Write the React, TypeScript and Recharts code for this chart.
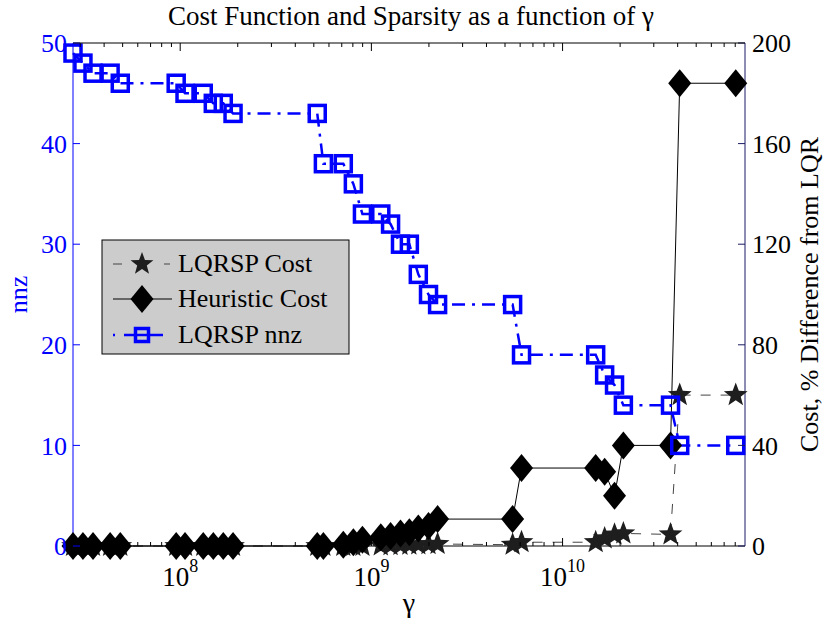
import React from 'react';
import { ComposedChart, Line, XAxis, YAxis } from 'recharts';

// gamma sweep and the three measured series
const gamma = [
  2.75e7, 3.1e7, 3.5e7, 4.3e7, 4.86e7, 9.53e7, 1.06e8, 1.32e8, 1.49e8, 1.68e8, 1.89e8,
  5.21e8, 5.61e8, 7.13e8, 8.05e8, 8.98e8, 1.12e9, 1.26e9, 1.42e9, 1.58e9, 1.76e9, 1.99e9, 2.22e9,
  5.48e9, 6.1e9, 1.49e10, 1.66e10, 1.87e10, 2.08e10, 3.67e10, 4.1e10, 8.05e10,
];
const nnz = [
  49, 48, 47, 47, 46, 46, 45, 45, 44, 44, 43,
  43, 38, 38, 36, 33, 33, 32, 30, 30, 27, 25, 24,
  24, 19, 19, 17, 16, 14, 14, 10, 10,
];
const heuristicCost = [
  0, 0, 0, 0, 0, 0, 0, 0, 0, 0, 0,
  0, 0, 0.5, 1.5, 2.5, 3.5, 4, 5, 5.5, 7, 8, 10.7,
  10.7, 31, 31, 29.5, 20, 40, 40, 184, 184,
];
const lqrspCost = [
  0, 0, 0, 0, 0, 0, 0, 0, 0, 0, 0,
  0, 0, 0, 0, 0, 0.2, 0.3, 0.4, 0.5, 0.6, 0.7, 0.8,
  0.5, 1.5, 1.5, 3, 4.5, 5, 4.6, 60, 60,
];

const nnzTicks = [0, 10, 20, 30, 40, 50];
const costTicks = [0, 40, 80, 120, 160, 200];
const decades = [1e7, 1e8, 1e9, 1e10];
const gammaDomain = [2.75e7, 9e10];

const W = 828;
const H = 628;
const PLOT = { left: 73, top: 43, right: 745, bottom: 546 };
const FONT = "'Liberation Serif', 'Times New Roman', Times, serif";
const BLUE = '#0000ff';

const data = gamma.map((g, i) => ({
  gamma: g,
  nnz: nnz[i],
  heuristic: heuristicCost[i],
  lqrsp: lqrspCost[i],
}));

// major + minor log ticks inside the domain
const gammaTicks: number[] = [];
decades.forEach((d) => {
  for (let m = 1; m <= 9; m++) {
    const v = d * m;
    if (v >= gammaDomain[0] && v < gammaDomain[1]) gammaTicks.push(v);
  }
});

function GammaTick(props: any) {
  const { x, payload } = props;
  const lg = Math.log10(payload.value);
  const exp = Math.round(lg);
  const major = Math.abs(lg - exp) < 1e-6;
  const len = major ? 8 : 4;
  return (
    <g>
      <line x1={x} x2={x} y1={PLOT.bottom} y2={PLOT.bottom - len} stroke="#000" />
      <line x1={x} x2={x} y1={PLOT.top} y2={PLOT.top + len} stroke="#000" />
      {major && (
        <text x={x} y={PLOT.bottom + 40} textAnchor="middle" fontFamily={FONT} fontSize={27} fill="#000">
          10<tspan dy={-14} fontSize={18}>{exp}</tspan>
        </text>
      )}
    </g>
  );
}

function NnzTick(props: any) {
  const { y, payload } = props;
  return (
    <g>
      <line x1={PLOT.left} x2={PLOT.left + 7} y1={y} y2={y} stroke={BLUE} />
      <text x={PLOT.left - 6} y={y} dy="0.35em" textAnchor="end" fontFamily={FONT} fontSize={26} fill={BLUE}>
        {payload.value}
      </text>
    </g>
  );
}

function CostTick(props: any) {
  const { y, payload } = props;
  return (
    <g>
      <line x1={PLOT.right} x2={PLOT.right - 7} y1={y} y2={y} stroke="#1a1a66" />
      <text x={PLOT.right + 7} y={y} dy="0.35em" textAnchor="start" fontFamily={FONT} fontSize={26} fill="#000">
        {payload.value}
      </text>
    </g>
  );
}

const Square = (props: any) => {
  const { cx, cy, side = 16 } = props;
  if (cx == null || cy == null) return null;
  return <rect x={cx - side / 2} y={cy - side / 2} width={side} height={side} fill="none" stroke={BLUE} strokeWidth={3.5} />;
};

const Diamond = (props: any) => {
  const { cx, cy } = props;
  if (cx == null || cy == null) return null;
  const w = 11.5;
  const h = 14;
  return <path d={`M${cx},${cy - h}L${cx + w},${cy}L${cx},${cy + h}L${cx - w},${cy}Z`} fill="#000" />;
};

// Recharts hands dots its own r, so the star keeps a separate size prop
const Star = (props: any) => {
  const { cx, cy, size = 12.5 } = props;
  if (cx == null || cy == null) return null;
  const pts: string[] = [];
  for (let k = 0; k < 10; k++) {
    const rad = k % 2 === 0 ? size : size * 0.42;
    const a = -Math.PI / 2 + (k * Math.PI) / 5;
    pts.push(`${cx + rad * Math.cos(a)},${cy + rad * Math.sin(a)}`);
  }
  return <polygon points={pts.join(' ')} fill="#1e1e1e" />;
};

function LegendBox() {
  const rows = [
    { y: 264, label: 'LQRSP Cost' },
    { y: 299, label: 'Heuristic Cost' },
    { y: 335, label: 'LQRSP nnz' },
  ];
  return (
    <g>
      <rect x={102} y={240} width={247} height={114} fill="#cccccc" stroke="#000" strokeWidth={1} />
      {/* LQRSP cost */}
      <line x1={113} x2={170} y1={rows[0].y} y2={rows[0].y} stroke="#444" strokeDasharray="9 42 9" />
      <Star cx={142} cy={rows[0].y} size={12} />
      {/* heuristic */}
      <line x1={113} x2={172} y1={rows[1].y} y2={rows[1].y} stroke="#000" />
      <Diamond cx={142} cy={rows[1].y} />
      {/* nnz */}
      <line x1={113} x2={172} y1={rows[2].y} y2={rows[2].y} stroke={BLUE} strokeWidth={2.5} strokeDasharray="2 9 39 9 2" />
      <Square cx={142} cy={rows[2].y} side={13} />
      {rows.map((r) => (
        <text key={r.label} x={178} y={r.y + 8} fontFamily={FONT} fontSize={26} fill="#000">
          {r.label}
        </text>
      ))}
    </g>
  );
}

export default function App() {
  return (
    <div style={{ position: 'absolute', left: 0, top: 0, width: W, height: H, background: '#fff' }}>
      <ComposedChart
        width={W}
        height={H}
        data={data}
        margin={{ top: PLOT.top, right: W - PLOT.right - 60, bottom: H - PLOT.bottom - 40, left: PLOT.left - 60 }}
      >
        <XAxis
          dataKey="gamma"
          type="number"
          scale="log"
          domain={gammaDomain}
          ticks={gammaTicks}
          interval={0}
          height={40}
          tickSize={0}
          tickLine={false}
          tick={<GammaTick />}
          axisLine={{ stroke: '#000' }}
        />
        <YAxis
          yAxisId="left"
          orientation="left"
          domain={[0, 50]}
          ticks={nnzTicks}
          width={60}
          tickSize={0}
          tickLine={false}
          tick={<NnzTick />}
          axisLine={{ stroke: BLUE }}
        />
        <YAxis
          yAxisId="right"
          orientation="right"
          domain={[0, 200]}
          ticks={costTicks}
          width={60}
          tickSize={0}
          tickLine={false}
          tick={<CostTick />}
          axisLine={{ stroke: '#1a1a66' }}
        />
        <Line
          yAxisId="right"
          dataKey="lqrsp"
          name="LQRSP Cost"
          stroke="#444"
          strokeWidth={1}
          strokeDasharray="10 10"
          dot={<Star />}
          activeDot={false}
          type="linear"
          isAnimationActive={false}
        />
        <Line
          yAxisId="right"
          dataKey="heuristic"
          name="Heuristic Cost"
          stroke="#000"
          strokeWidth={1}
          dot={<Diamond />}
          activeDot={false}
          type="linear"
          isAnimationActive={false}
        />
        <Line
          yAxisId="left"
          dataKey="nnz"
          name="LQRSP nnz"
          stroke={BLUE}
          strokeWidth={2.5}
          strokeDasharray="13 7 3 7"
          dot={<Square />}
          activeDot={false}
          type="linear"
          isAnimationActive={false}
        />
      </ComposedChart>
      <svg width={W} height={H} style={{ position: 'absolute', left: 0, top: 0, pointerEvents: 'none' }}>
        <line x1={PLOT.left} x2={PLOT.right} y1={PLOT.top} y2={PLOT.top} stroke="#000" />
        <text x={411} y={25} textAnchor="middle" fontFamily={FONT} fontSize={27} fill="#000">
          Cost Function and Sparsity as a function of γ
        </text>
        <text x={409} y={612} textAnchor="middle" fontFamily={FONT} fontSize={28} fill="#000">
          γ
        </text>
        <text
          transform={`translate(27, ${(PLOT.top + PLOT.bottom) / 2}) rotate(-90)`}
          textAnchor="middle"
          fontFamily={FONT}
          fontSize={26}
          fill={BLUE}
        >
          nnz
        </text>
        <text
          transform={`translate(818, ${(PLOT.top + PLOT.bottom) / 2}) rotate(-90)`}
          textAnchor="middle"
          fontFamily={FONT}
          fontSize={26}
          fill="#000"
        >
          Cost, % Difference from LQR
        </text>
        <LegendBox />
      </svg>
    </div>
  );
}
